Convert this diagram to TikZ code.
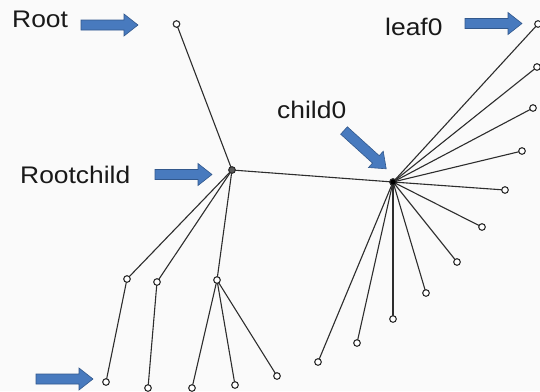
\documentclass[tikz,border=0pt]{standalone}
\usepackage{fontspec}
\setmainfont{Liberation Sans}
\definecolor{bg}{RGB}{250,250,250}
\definecolor{afill}{RGB}{72,122,190}
\definecolor{adraw}{RGB}{50,88,140}
\definecolor{edge}{RGB}{45,45,45}
\definecolor{txt}{RGB}{25,25,25}
\begin{document}
\begin{tikzpicture}[x=1pt,y=-1pt,
  vtx/.style={circle,draw=edge,fill=white,line width=1.1pt,inner sep=0pt,minimum size=6.6pt},
  hub/.style={vtx,fill=black},
  conn/.style={draw=edge,line width=1.1pt},
  lbl/.style={anchor=base west,inner sep=0pt,text=txt,font=\fontsize{24}{28}\selectfont,xscale=1.1},
  pics/blockarrow/.style={code={
    \filldraw[fill=afill,draw=adraw,line width=0.6pt,line join=miter]
      (0,-5) -- (43,-5) -- (43,-11) -- (57,0) -- (43,11) -- (43,5) -- (0,5) -- cycle;}}]
\fill[bg] (0,0) rectangle (540,391);
\useasboundingbox (0,0) rectangle (540,391);
% edges first
\coordinate (pr) at (176.5,24);
\coordinate (prc) at (232,170);
\coordinate (pc0) at (393,182);
\foreach \n/\x/\y in {a/127/279, b/157/282, c/217/280,
  a1/106/382, b1/148/388, c1/192/388, c2/235/385, c3/277/376,
  l0/538/24, l1/537/67, l2/533/108, l3/522/151, l4/505/190, l5/482/227,
  l6/457/262, l7/426/293, l8/393/319, l9/357/343, l10/318/362}
  {\coordinate (p\n) at (\x,\y);}
\path[conn] (pr) -- (prc) (prc) -- (pc0);
\foreach \t in {a,b,c} {\path[conn] (prc) -- (p\t);}
\path[conn] (pa) -- (pa1) (pb) -- (pb1) (pc) -- (pc1) (pc) -- (pc2) (pc) -- (pc3);
\foreach \t in {l0,l1,l2,l3,l4,l5,l6,l7,l8,l9,l10} {\path[conn] (pc0) -- (p\t);}
% vertices
\node[vtx] (root) at (pr) {};
\node[vtx,fill=gray!70!black] (rootchild) at (prc) {};
\node[hub] (child0) at (pc0) {};
\foreach \n in {a,b,c,a1,b1,c1,c2,c3,l0,l1,l2,l3,l4,l5,l6,l7,l8,l9,l10}
  {\node[vtx] (\n) at (p\n) {};}
% labels
\node[lbl] (troot) at (12,27.5) {Root};
\node[lbl] (trootchild) at (20,183) {Rootchild};
\node[lbl] (tleaf) at (385,35) {leaf0};
\node[lbl] (tchild) at (277,118) {child0};
% block arrows
\pic (arA) at (81,25) {blockarrow};
\pic (arB) at (155,174.5) {blockarrow};
\pic (arC) at (465,23.5) {blockarrow};
\pic (arD) at (36,379) {blockarrow};
\pic[rotate=-42.2] (arE) at (344,130.5) {blockarrow};
\end{tikzpicture}
\end{document}
